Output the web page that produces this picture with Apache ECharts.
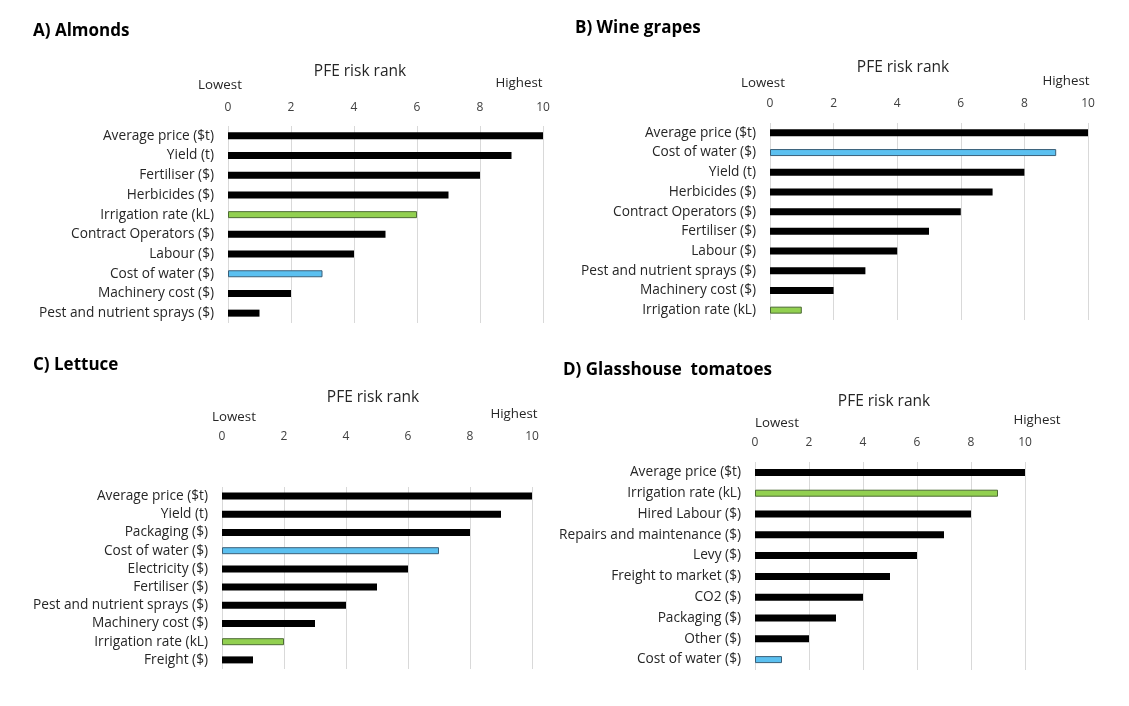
<!DOCTYPE html>
<html><head><meta charset="utf-8">
<script src="https://cdn.jsdelivr.net/npm/echarts@6/dist/echarts.min.js"></script>
<style>html,body{margin:0;padding:0;background:#fff}#c{width:1129px;height:706px}</style>
</head><body><div id="c"></div>
<script>
const ticks = [0, 2, 4, 6, 8, 10];
const catsA = ['Average price ($t)','Yield (t)','Fertiliser ($)','Herbicides ($)','Irrigation rate (kL)','Contract Operators ($)','Labour ($)','Cost of water ($)','Machinery cost ($)','Pest and nutrient sprays ($)'];
const valsA = [10, 9, 8, 7, 6, 5, 4, 3, 2, 1];
const catsB = ['Average price ($t)','Cost of water ($)','Yield (t)','Herbicides ($)','Contract Operators ($)','Fertiliser ($)','Labour ($)','Pest and nutrient sprays ($)','Machinery cost ($)','Irrigation rate (kL)'];
const valsB = [10, 9, 8, 7, 6, 5, 4, 3, 2, 1];
const catsC = ['Average price ($t)','Yield (t)','Packaging ($)','Cost of water ($)','Electricity ($)','Fertiliser ($)','Pest and nutrient sprays ($)','Machinery cost ($)','Irrigation rate (kL)','Freight ($)'];
const valsC = [10, 9, 8, 7, 6, 5, 4, 3, 2, 1];
const catsD = ['Average price ($t)','Irrigation rate (kL)','Hired Labour ($)','Repairs and maintenance ($)','Levy ($)','Freight to market ($)','CO2 ($)','Packaging ($)','Other ($)','Cost of water ($)'];
const valsD = [10, 9, 8, 7, 6, 5, 4, 3, 2, 1];

const FONT = '"Open Sans", "Noto Sans", sans-serif';
const panels = [
  {title:'A) Almonds', cats:catsA, vals:valsA, left:228, right:543, top:126, height:197, tx:33, ty:23, tickY:108, pfeX:360, lowX:220, lowY:85, hiX:519, hiY:83, pfeY:72},
  {title:'B) Wine grapes', cats:catsB, vals:valsB, left:770, right:1088, top:123, height:197, tx:575, ty:20, tickY:104, pfeX:903, lowX:763, lowY:83, hiX:1066, hiY:81, pfeY:68},
  {title:'C) Lettuce', cats:catsC, vals:valsC, left:222, right:532, top:487, height:182, tx:33, ty:357, tickY:437, pfeX:373, lowX:234, lowY:417, hiX:514, hiY:414, pfeY:398},
  {title:'D) Glasshouse  tomatoes', cats:catsD, vals:valsD, left:755, right:1025, top:462, height:208, tx:563, ty:362, tickY:443, pfeX:884, lowX:777, lowY:423, hiX:1037, hiY:420, pfeY:402}
];

function barColor(name){
  if (name.indexOf('Cost of water') === 0) return {color:'#5bc0f0', borderColor:'#3a5f78', borderWidth:1};
  if (name.indexOf('Irrigation rate') === 0) return {color:'#92d050', borderColor:'#4d6b35', borderWidth:1};
  return {color:'#000000'};
}

const grid = [], xAxis = [], yAxis = [], series = [], graphic = [];
panels.forEach((p, i) => {
  grid.push({left:p.left, width:p.right - p.left, top:p.top, height:p.height, containLabel:false});
  xAxis.push({type:'value', gridIndex:i, position:'top', min:ticks[0], max:ticks[ticks.length-1], interval:2,
    axisLine:{show:false}, axisTick:{show:false},
    axisLabel:{color:'#404040', fontFamily:FONT, fontSize:12, margin: p.top - p.tickY - 6},
    splitLine:{show:true, lineStyle:{color:'#d9d9d9', width:1}}});
  yAxis.push({type:'category', gridIndex:i, data:p.cats, inverse:true,
    axisLine:{show:false}, axisTick:{show:false},
    axisLabel:{color:'#262626', fontFamily:FONT, fontSize:13.7, margin:14, interval:0, hideOverlap:false}});
  series.push({type:'bar', xAxisIndex:i, yAxisIndex:i, barWidth:7,
    data:p.vals.map((v, k) => ({value:v, itemStyle:barColor(p.cats[k])})),
    silent:true});
  graphic.push({type:'text', left:p.tx, top:p.ty, style:{text:p.title, font:'bold 17px ' + FONT, fill:'#000'}});
  graphic.push({type:'text', x:p.pfeX, y:p.pfeY, style:{text:'PFE risk rank', font:'15.5px ' + FONT, fill:'#262626', align:'center', verticalAlign:'middle'}});
  graphic.push({type:'text', x:p.lowX, y:p.lowY, style:{text:'Lowest', font:'13.3px ' + FONT, fill:'#262626', align:'center', verticalAlign:'middle'}});
  graphic.push({type:'text', x:p.hiX, y:p.hiY, style:{text:'Highest', font:'13.3px ' + FONT, fill:'#262626', align:'center', verticalAlign:'middle'}});
});

const chart = echarts.init(document.getElementById('c'), null, {renderer:'canvas'});
chart.setOption({animation:false, backgroundColor:'#fff', grid, xAxis, yAxis, series, graphic});
</script></body></html>
